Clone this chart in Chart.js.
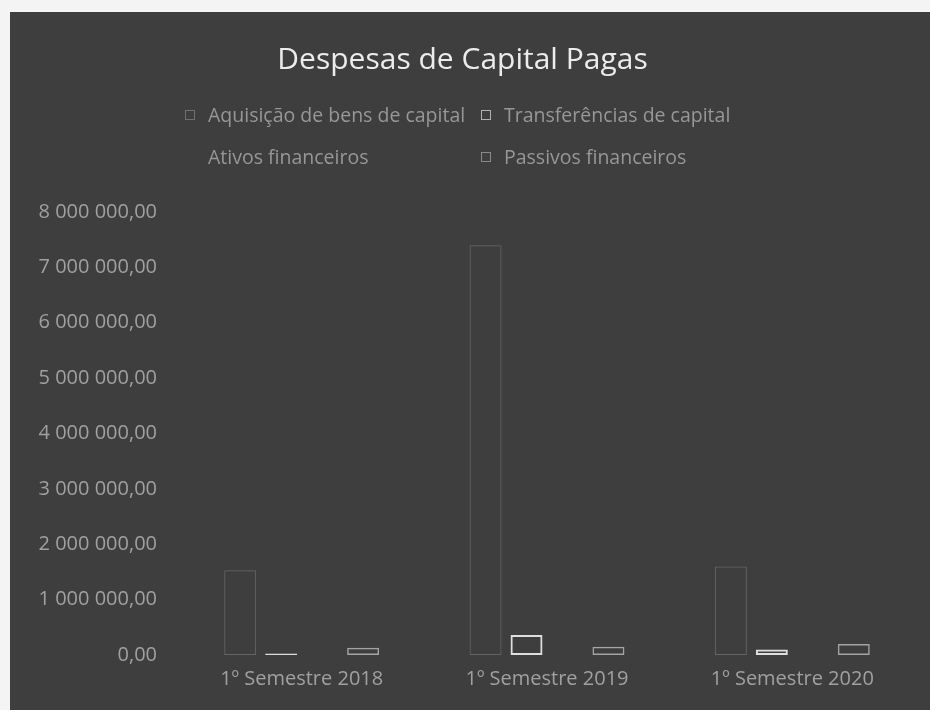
<!DOCTYPE html>
<html lang="pt">
<head>
    <meta charset="UTF-8">
    <title>Despesas de Capital Pagas</title>
    <script src="https://cdn.jsdelivr.net/npm/chart.js"></script>
    <style>
        body {
            margin: 0;
            background: #f4f4f4;
            width: 930px;
            height: 710px;
            overflow: hidden;
        }

        .chart-box {
            position: absolute;
            left: 10px;
            top: 12px;
            width: 920px;
            height: 698px;
            background: #3e3e3e;
        }

        .legend {
            position: absolute;
            left: 175px;
            top: 92px;
            display: grid;
            grid-template-columns: 296px 320px;
            row-gap: 20px;
            font-family: "Open Sans", sans-serif;
            font-size: 19.5px;
            line-height: 22px;
            color: #979797;
        }

        .legend-item {
            display: flex;
            align-items: center;
            white-space: nowrap;
        }

        .legend-box {
            width: 8px;
            height: 8px;
            margin-right: 13px;
            border: 1px solid;
        }
    </style>
</head>
<body>
    <div class="chart-box">
        <canvas id="capitalChart" width="920" height="698"></canvas>
        <div class="legend" id="legend"></div>
    </div>

    <script>
        // data
        const categories = ['1º Semestre 2018', '1º Semestre 2019', '1º Semestre 2020'];
        const seriesNames = ['Aquisição de bens de capital', 'Transferências de capital', 'Ativos financeiros', 'Passivos financeiros'];
        const aquisicaoBens = [1530000, 7400000, 1600000];
        const transferencias = [25000, 360000, 100000];
        const ativosFinanceiros = [0, 0, 0];
        const passivosFinanceiros = [130000, 150000, 200000];
        const yTicks = [0, 1000000, 2000000, 3000000, 4000000, 5000000, 6000000, 7000000, 8000000];

        const seriesValues = [aquisicaoBens, transferencias, ativosFinanceiros, passivosFinanceiros];
        const lineColors = ['rgba(160,160,160,0.4)', '#dedede', 'rgba(0,0,0,0)', '#a4a4a4'];
        const lineWidths = [1, 2, 0, 1.5];
        const legendColors = ['#6f6f6f', '#b0b0b0', 'rgba(0,0,0,0)', '#8a8a8a'];

        function fmt(v) {
            return v.toFixed(2).replace('.', ',').replace(/\B(?=(\d{3})+(?!\d))/g, ' ');
        }

        const datasets = seriesNames.map((name, i) => ({
            label: name,
            data: seriesValues[i],
            backgroundColor: 'rgba(0,0,0,0)',
            borderColor: lineColors[i],
            borderWidth: lineWidths[i],
            borderSkipped: false,
            categoryPercentage: 0.668,
            barPercentage: 0.78
        }));

        const ctx = document.getElementById('capitalChart').getContext('2d');
        const chart = new Chart(ctx, {
            type: 'bar',
            data: { labels: categories, datasets: datasets },
            options: {
                responsive: false,
                animation: false,
                layout: { padding: { left: 0, right: 15, top: 0, bottom: 0 } },
                plugins: {
                    legend: { display: false },
                    tooltip: { enabled: false },
                    title: {
                        display: true,
                        text: 'Despesas de Capital Pagas',
                        color: '#ececec',
                        font: { family: 'Open Sans', size: 30, weight: 'normal' },
                        padding: { top: 30, bottom: 134 }
                    }
                },
                scales: {
                    x: {
                        grid: { display: false, drawTicks: false },
                        border: { display: false },
                        ticks: {
                            color: '#a0a0a0',
                            font: { family: 'Open Sans', size: 20 },
                            padding: 12
                        },
                        afterFit: (scale) => { scale.height = 55; }
                    },
                    y: {
                        min: 0,
                        max: 8000000,
                        afterBuildTicks: (scale) => { scale.ticks = yTicks.map(v => ({ value: v })); },
                        grid: { display: false, drawTicks: false },
                        border: { display: false },
                        ticks: {
                            color: '#a0a0a0',
                            font: { family: 'Open Sans', size: 20 },
                            padding: 22,
                            callback: (v) => fmt(v)
                        },
                        afterFit: (scale) => { scale.width = 169; }
                    }
                }
            }
        });

        // legend in two columns like the original
        const legend = document.getElementById('legend');
        chart.data.datasets.forEach((ds, i) => {
            const item = document.createElement('div');
            item.className = 'legend-item';
            const box = document.createElement('span');
            box.className = 'legend-box';
            box.style.borderColor = legendColors[i];
            const txt = document.createElement('span');
            txt.textContent = ds.label;
            item.appendChild(box);
            item.appendChild(txt);
            legend.appendChild(item);
        });
    </script>
</body>
</html>
